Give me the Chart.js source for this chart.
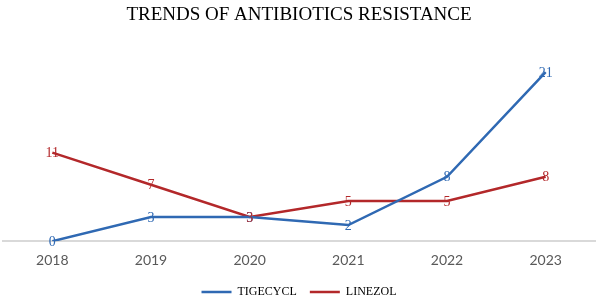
<!DOCTYPE html>
<html>
<head>
<meta charset="utf-8">
<script src="https://cdn.jsdelivr.net/npm/chart.js@4"></script>
<style>
html,body{margin:0;padding:0;background:#fff;}
#wrap{width:599px;height:300px;position:relative;}
</style>
</head>
<body>
<div id="wrap"><canvas id="c" width="599" height="300"></canvas></div>
<script>
const categories = ['2018','2019','2020','2021','2022','2023'];
const tigecycl = [0, 3, 3, 2, 8, 21];
const linezol = [11, 7, 3, 5, 5, 8];
const seriesNames = ['TIGECYCL', 'LINEZOL'];
const titleText = 'TRENDS OF ANTIBIOTICS RESISTANCE';

const blue = '#2F69B3';
const red = '#B3282A';

const labelPlugin = {
  id: 'pointLabels',
  afterDatasetsDraw(chart) {
    const ctx = chart.ctx;
    ctx.save();
    ctx.font = '14px "Liberation Serif", serif';
    ctx.textAlign = 'center';
    ctx.textBaseline = 'middle';
    chart.data.datasets.forEach((ds, i) => {
      const meta = chart.getDatasetMeta(i);
      meta.data.forEach((pt, j) => {
        ctx.fillStyle = ds.borderColor;
        ctx.fillText(String(ds.data[j]), pt.x, pt.y + 1);
      });
    });
    ctx.restore();
  }
};

new Chart(document.getElementById('c'), {
  type: 'line',
  data: {
    labels: categories,
    datasets: [
      { label: seriesNames[0], data: tigecycl, borderColor: blue, backgroundColor: blue, borderWidth: 2.5, pointRadius: 0, tension: 0 },
      { label: seriesNames[1], data: linezol, borderColor: red, backgroundColor: red, borderWidth: 2.5, pointRadius: 0, tension: 0 }
    ]
  },
  options: {
    responsive: false,
    animation: false,
    layout: { padding: { left: 3, right: 4, top: 4, bottom: -8 } },
    plugins: {
      title: {
        display: true,
        text: titleText,
        color: '#000',
        font: { family: '"Liberation Serif", serif', size: 19, weight: 'normal' },
        padding: { top: 0, bottom: 13 }
      },
      legend: {
        position: 'bottom',
        labels: {
          color: '#404040',
          font: { family: '"Liberation Serif", serif', size: 12 },
          boxWidth: 30,
          boxHeight: 0,
          padding: 13,
          generateLabels(chart) {
            return chart.data.datasets.map((ds, i) => ({
              text: ds.label,
              fillStyle: ds.borderColor,
              strokeStyle: ds.borderColor,
              lineWidth: 2.5,
              datasetIndex: i,
              hidden: false
            }));
          }
        }
      },
      tooltip: { enabled: false }
    },
    scales: {
      x: {
        offset: true,
        grid: { display: false },
        border: { display: true, color: '#D9D9D9', width: 2 },
        ticks: { color: '#595959', font: { family: 'Lato, sans-serif', size: 14 }, padding: 3 },
        afterFit(scale) { scale.height += 1; }
      },
      y: {
        display: false,
        min: 0,
        max: 25
      }
    }
  },
  plugins: [labelPlugin]
});
</script>
</body>
</html>
